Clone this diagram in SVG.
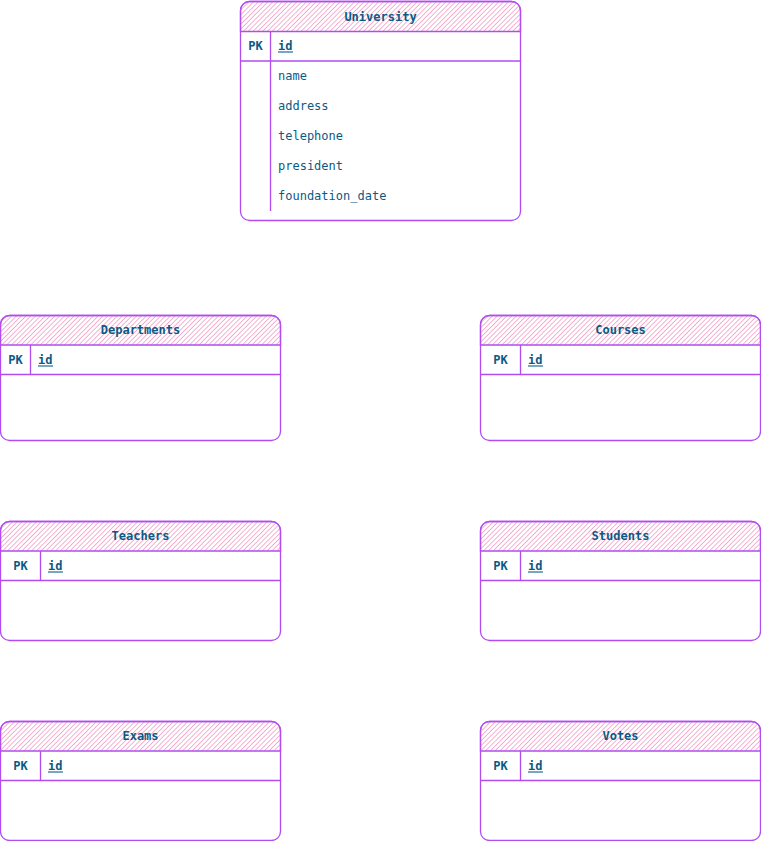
<svg xmlns="http://www.w3.org/2000/svg" width="761" height="841" viewBox="0 0 761 841">
<defs>
<pattern id="hatch" patternUnits="userSpaceOnUse" width="3.4" height="3.4" patternTransform="rotate(45)">
<line x1="0" y1="0" x2="0" y2="3.4" stroke="#f290bf" stroke-width="1.4"/>
</pattern>
</defs>
<style>
.box{fill:#ffffff;stroke:#b14df0;stroke-width:1.3}
.hdr{fill:url(#hatch);stroke:#b14df0;stroke-width:1.3}
.ln{stroke:#b14df0;stroke-width:1.3;fill:none}
.t{font-family:"DejaVu Sans Mono",monospace;font-size:12px;fill:#0b5a85}
.b{font-weight:bold}
.c{text-anchor:middle}
.ul{fill:#7aa6c2}
</style>
<rect width="761" height="841" fill="#ffffff"/>
<g id="connectors"></g>

<g id="university">
<rect class="box" x="240.5" y="1.5" width="280" height="219" rx="9"/>
<path class="hdr" d="M240.5 31.5 V10.5 A9 9 0 0 1 249.5 1.5 H511.5 A9 9 0 0 1 520.5 10.5 V31.5 Z"/>
<line class="ln" x1="240.5" y1="61" x2="520.5" y2="61"/>
<line class="ln" x1="270.5" y1="31.5" x2="270.5" y2="211"/>
<text class="t b c" x="380.5" y="20.5">University</text>
<text class="t b c" x="255.5" y="50">PK</text>
<text class="t b" x="278" y="50">id</text>
<rect class="ul" x="278" y="51" width="15" height="2"/>
<text class="t" x="278" y="80">name</text>
<text class="t" x="278" y="110">address</text>
<text class="t" x="278" y="140">telephone</text>
<text class="t" x="278" y="170">president</text>
<text class="t" x="278" y="200">foundation_date</text>
</g>

<g id="departments">
<rect class="box" x="0.5" y="315.5" width="280" height="125" rx="9"/>
<path class="hdr" d="M0.5 345 V324.5 A9 9 0 0 1 9.5 315.5 H271.5 A9 9 0 0 1 280.5 324.5 V345 Z"/>
<line class="ln" x1="0.5" y1="374.5" x2="280.5" y2="374.5"/>
<line class="ln" x1="30.5" y1="345" x2="30.5" y2="374.5"/>
<text class="t b c" x="140.5" y="334">Departments</text>
<text class="t b c" x="15.5" y="364">PK</text>
<text class="t b" x="38" y="364">id</text>
<rect class="ul" x="38" y="365" width="15" height="2"/>
</g>

<g id="courses">
<rect class="box" x="480.5" y="315.5" width="280" height="125" rx="9"/>
<path class="hdr" d="M480.5 345 V324.5 A9 9 0 0 1 489.5 315.5 H751.5 A9 9 0 0 1 760.5 324.5 V345 Z"/>
<line class="ln" x1="480.5" y1="374.5" x2="760.5" y2="374.5"/>
<line class="ln" x1="520.5" y1="345" x2="520.5" y2="374.5"/>
<text class="t b c" x="620.5" y="334">Courses</text>
<text class="t b c" x="500.5" y="364">PK</text>
<text class="t b" x="528" y="364">id</text>
<rect class="ul" x="528" y="365" width="15" height="2"/>
</g>

<g id="teachers">
<rect class="box" x="0.5" y="521.5" width="280" height="119" rx="9"/>
<path class="hdr" d="M0.5 551 V530.5 A9 9 0 0 1 9.5 521.5 H271.5 A9 9 0 0 1 280.5 530.5 V551 Z"/>
<line class="ln" x1="0.5" y1="580.5" x2="280.5" y2="580.5"/>
<line class="ln" x1="40.5" y1="551" x2="40.5" y2="580.5"/>
<text class="t b c" x="140.5" y="540">Teachers</text>
<text class="t b c" x="20.5" y="570">PK</text>
<text class="t b" x="48" y="570">id</text>
<rect class="ul" x="48" y="571" width="15" height="2"/>
</g>

<g id="students">
<rect class="box" x="480.5" y="521.5" width="280" height="119" rx="9"/>
<path class="hdr" d="M480.5 551 V530.5 A9 9 0 0 1 489.5 521.5 H751.5 A9 9 0 0 1 760.5 530.5 V551 Z"/>
<line class="ln" x1="480.5" y1="580.5" x2="760.5" y2="580.5"/>
<line class="ln" x1="520.5" y1="551" x2="520.5" y2="580.5"/>
<text class="t b c" x="620.5" y="540">Students</text>
<text class="t b c" x="500.5" y="570">PK</text>
<text class="t b" x="528" y="570">id</text>
<rect class="ul" x="528" y="571" width="15" height="2"/>
</g>

<g id="exams">
<rect class="box" x="0.5" y="721.5" width="280" height="119" rx="9"/>
<path class="hdr" d="M0.5 751 V730.5 A9 9 0 0 1 9.5 721.5 H271.5 A9 9 0 0 1 280.5 730.5 V751 Z"/>
<line class="ln" x1="0.5" y1="780.5" x2="280.5" y2="780.5"/>
<line class="ln" x1="40.5" y1="751" x2="40.5" y2="780.5"/>
<text class="t b c" x="140.5" y="740">Exams</text>
<text class="t b c" x="20.5" y="770">PK</text>
<text class="t b" x="48" y="770">id</text>
<rect class="ul" x="48" y="771" width="15" height="2"/>
</g>

<g id="votes">
<rect class="box" x="480.5" y="721.5" width="280" height="119" rx="9"/>
<path class="hdr" d="M480.5 751 V730.5 A9 9 0 0 1 489.5 721.5 H751.5 A9 9 0 0 1 760.5 730.5 V751 Z"/>
<line class="ln" x1="480.5" y1="780.5" x2="760.5" y2="780.5"/>
<line class="ln" x1="520.5" y1="751" x2="520.5" y2="780.5"/>
<text class="t b c" x="620.5" y="740">Votes</text>
<text class="t b c" x="500.5" y="770">PK</text>
<text class="t b" x="528" y="770">id</text>
<rect class="ul" x="528" y="771" width="15" height="2"/>
</g>
</svg>
